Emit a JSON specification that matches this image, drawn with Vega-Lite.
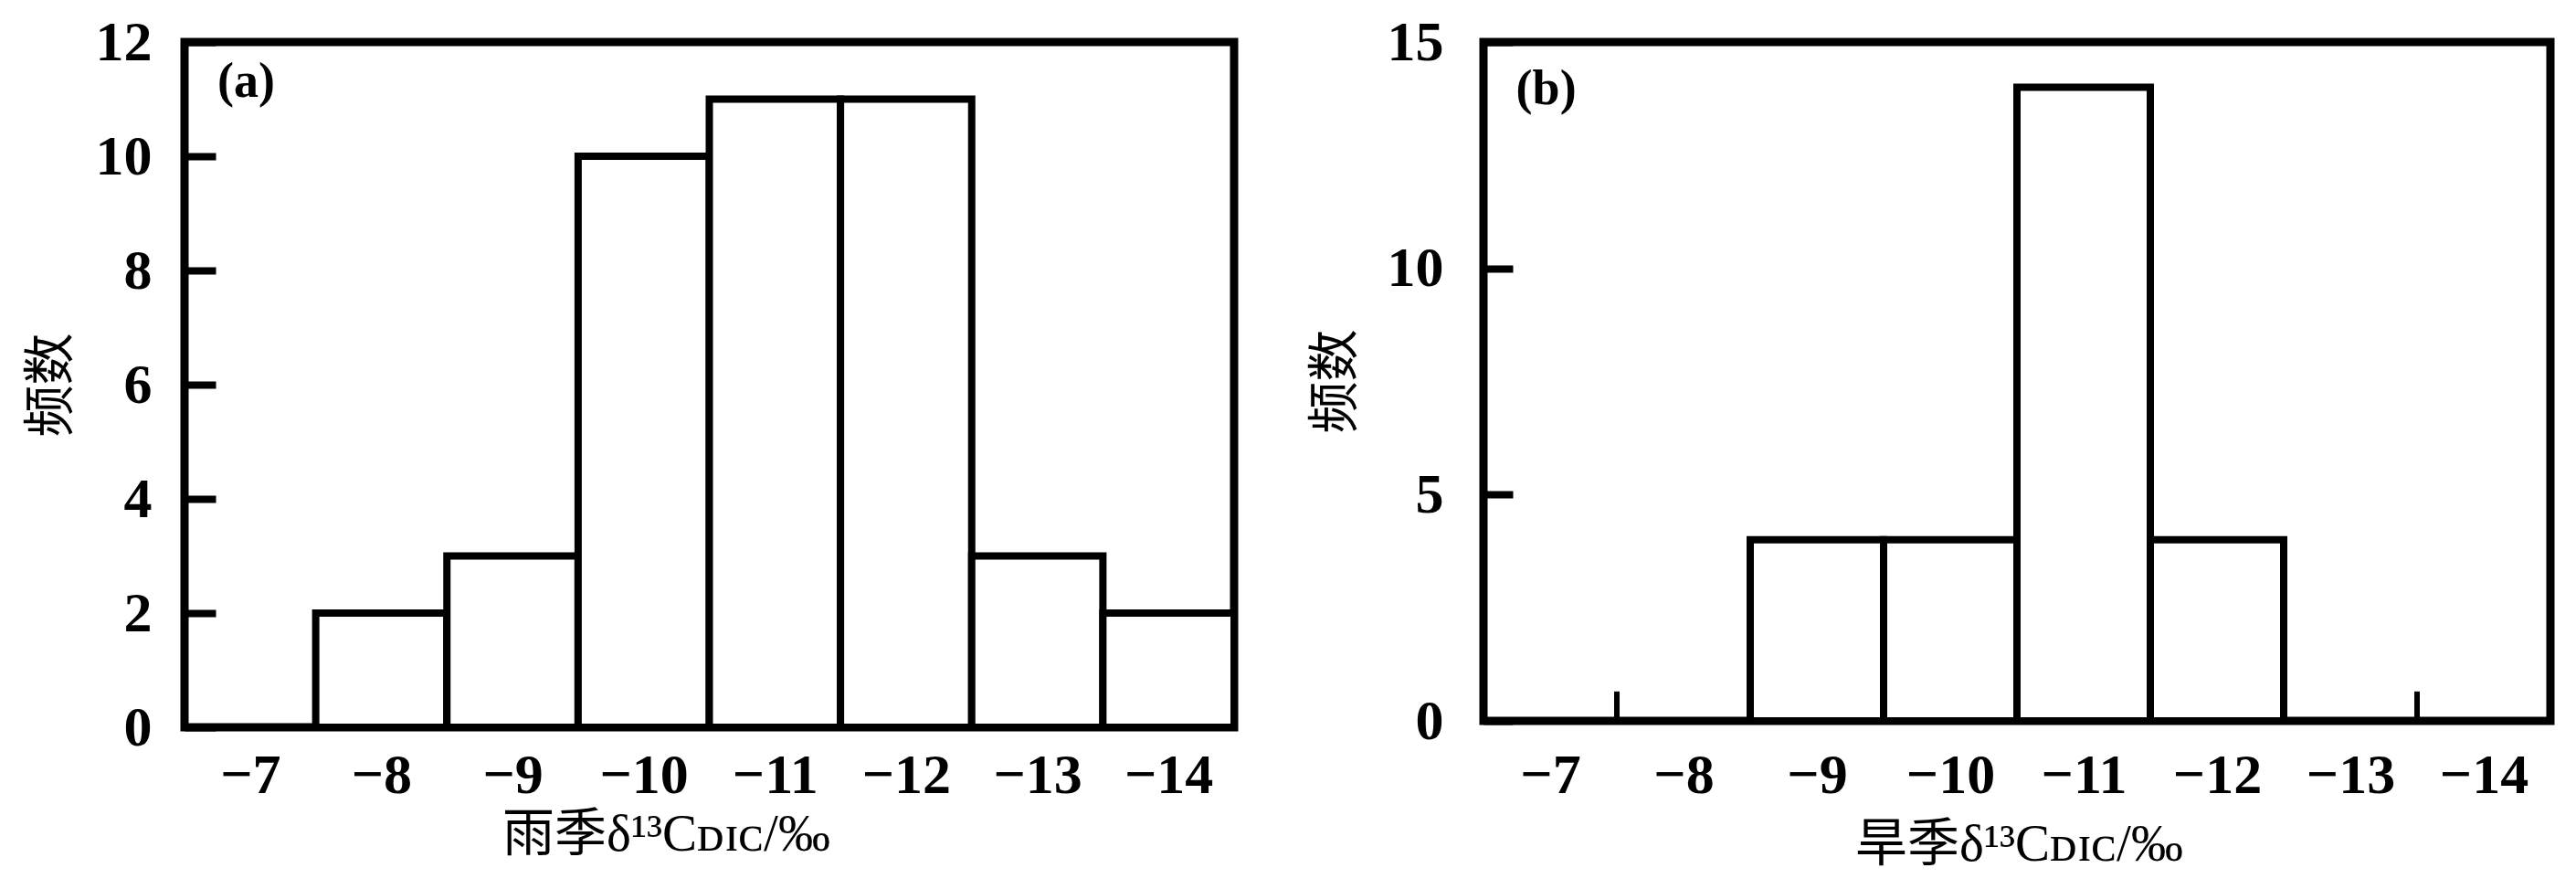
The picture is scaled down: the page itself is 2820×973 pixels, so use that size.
{
  "$schema": "https://vega.github.io/schema/vega-lite/v6.json",
  "background": "white",
  "padding": {"left": 22, "top": 10, "right": 0, "bottom": 0},
  "autosize": {"type": "pad"},
  "spacing": 68,
  "config": {
    "view": {"stroke": "black", "strokeWidth": 9, "fill": "white"},
    "axis": {
      "labelFont": "Liberation Serif",
      "labelFontWeight": "bold",
      "labelFontSize": 62,
      "labelColor": "black",
      "labelFlush": false,
      "labelOverlap": false,
      "format": "d",
      "titleFont": "'Liberation Serif', 'Noto Sans CJK SC'",
      "titleFontSize": 57,
      "titleFontWeight": "normal",
      "titleColor": "black",
      "grid": false,
      "domain": false,
      "zindex": 1
    }
  },
  "datasets": {
    "rainy": [
      {"bin_start": -6.5, "bin_end": -7.5, "count": 0},
      {"bin_start": -7.5, "bin_end": -8.5, "count": 2},
      {"bin_start": -8.5, "bin_end": -9.5, "count": 3},
      {"bin_start": -9.5, "bin_end": -10.5, "count": 10},
      {"bin_start": -10.5, "bin_end": -11.5, "count": 11},
      {"bin_start": -11.5, "bin_end": -12.5, "count": 11},
      {"bin_start": -12.5, "bin_end": -13.5, "count": 3},
      {"bin_start": -13.5, "bin_end": -14.5, "count": 2}
    ],
    "dry": [
      {"bin_start": -6.5, "bin_end": -7.5, "count": 0},
      {"bin_start": -7.5, "bin_end": -8.5, "count": 0},
      {"bin_start": -8.5, "bin_end": -9.5, "count": 4},
      {"bin_start": -9.5, "bin_end": -10.5, "count": 4},
      {"bin_start": -10.5, "bin_end": -11.5, "count": 14},
      {"bin_start": -11.5, "bin_end": -12.5, "count": 4},
      {"bin_start": -12.5, "bin_end": -13.5, "count": 0},
      {"bin_start": -13.5, "bin_end": -14.5, "count": 0}
    ],
    "dry_edges": [
      {"edge": -7.5, "top": 0.65},
      {"edge": -13.5, "top": 0.65}
    ]
  },
  "hconcat": [
    {
      "width": 1149,
      "height": 750,
      "layer": [
        {
          "data": {"name": "rainy"},
          "mark": {"type": "rect", "fill": "white", "stroke": "black", "strokeWidth": 8},
          "encoding": {
            "x": {
              "field": "bin_start", "type": "quantitative",
              "scale": {"domain": [-6.5, -14.5], "nice": false, "zero": false},
              "axis": {
                "values": [-7, -8, -9, -10, -11, -12, -13, -14],
                "ticks": false,
                "labelPadding": 22,
                "title": "雨季δ¹³Cᴅɪᴄ/‰",
                "titleX": 527, "titleY": 134,
                "titleBaseline": "alphabetic", "titleAlign": "center"
              }
            },
            "x2": {"field": "bin_end"},
            "y": {
              "field": "count", "type": "quantitative",
              "scale": {"domain": [0, 12], "nice": false},
              "axis": {
                "values": [0, 2, 4, 6, 8, 10, 12],
                "tickSize": -34, "tickWidth": 8, "tickColor": "black",
                "labelPadding": 70,
                "title": "频数",
                "titleX": -146, "titleY": 375,
                "titleBaseline": "middle", "titleAlign": "center", "titleAngle": 270
              }
            },
            "y2": {"datum": 0}
          }
        },
        {
          "data": {"values": [{"panel": "(a)"}]},
          "mark": {"type": "text", "font": "Liberation Serif", "fontWeight": "bold", "fontSize": 54, "color": "black", "align": "center", "baseline": "middle"},
          "encoding": {
            "x": {"datum": -6.97, "type": "quantitative"},
            "y": {"datum": 11.3, "type": "quantitative"},
            "text": {"field": "panel", "type": "nominal"}
          }
        }
      ]
    },
    {
      "width": 1168,
      "height": 743,
      "layer": [
        {
          "data": {"name": "dry"},
          "mark": {"type": "rect", "fill": "white", "stroke": "black", "strokeWidth": 8},
          "encoding": {
            "x": {
              "field": "bin_start", "type": "quantitative",
              "scale": {"domain": [-6.5, -14.5], "nice": false, "zero": false},
              "axis": {
                "values": [-7, -8, -9, -10, -11, -12, -13, -14],
                "ticks": false,
                "labelPadding": 29,
                "title": "旱季δ¹³Cᴅɪᴄ/‰",
                "titleX": 586, "titleY": 152,
                "titleBaseline": "alphabetic", "titleAlign": "center"
              }
            },
            "x2": {"field": "bin_end"},
            "y": {
              "field": "count", "type": "quantitative",
              "scale": {"domain": [0, 15], "nice": false},
              "axis": {
                "values": [0, 5, 10, 15],
                "tickSize": -32, "tickWidth": 8, "tickColor": "black",
                "labelPadding": 76,
                "title": "频数",
                "titleX": -162, "titleY": 371,
                "titleBaseline": "middle", "titleAlign": "center", "titleAngle": 270
              }
            },
            "y2": {"datum": 0}
          }
        },
        {
          "data": {"name": "dry_edges"},
          "mark": {"type": "rule", "stroke": "black", "strokeWidth": 6},
          "encoding": {
            "x": {"field": "edge", "type": "quantitative"},
            "y": {"field": "top", "type": "quantitative"},
            "y2": {"datum": 0}
          }
        },
        {
          "data": {"values": [{"panel": "(b)"}]},
          "mark": {"type": "text", "font": "Liberation Serif", "fontWeight": "bold", "fontSize": 54, "color": "black", "align": "center", "baseline": "middle"},
          "encoding": {
            "x": {"datum": -6.97, "type": "quantitative"},
            "y": {"datum": 13.95, "type": "quantitative"},
            "text": {"field": "panel", "type": "nominal"}
          }
        }
      ]
    }
  ]
}
